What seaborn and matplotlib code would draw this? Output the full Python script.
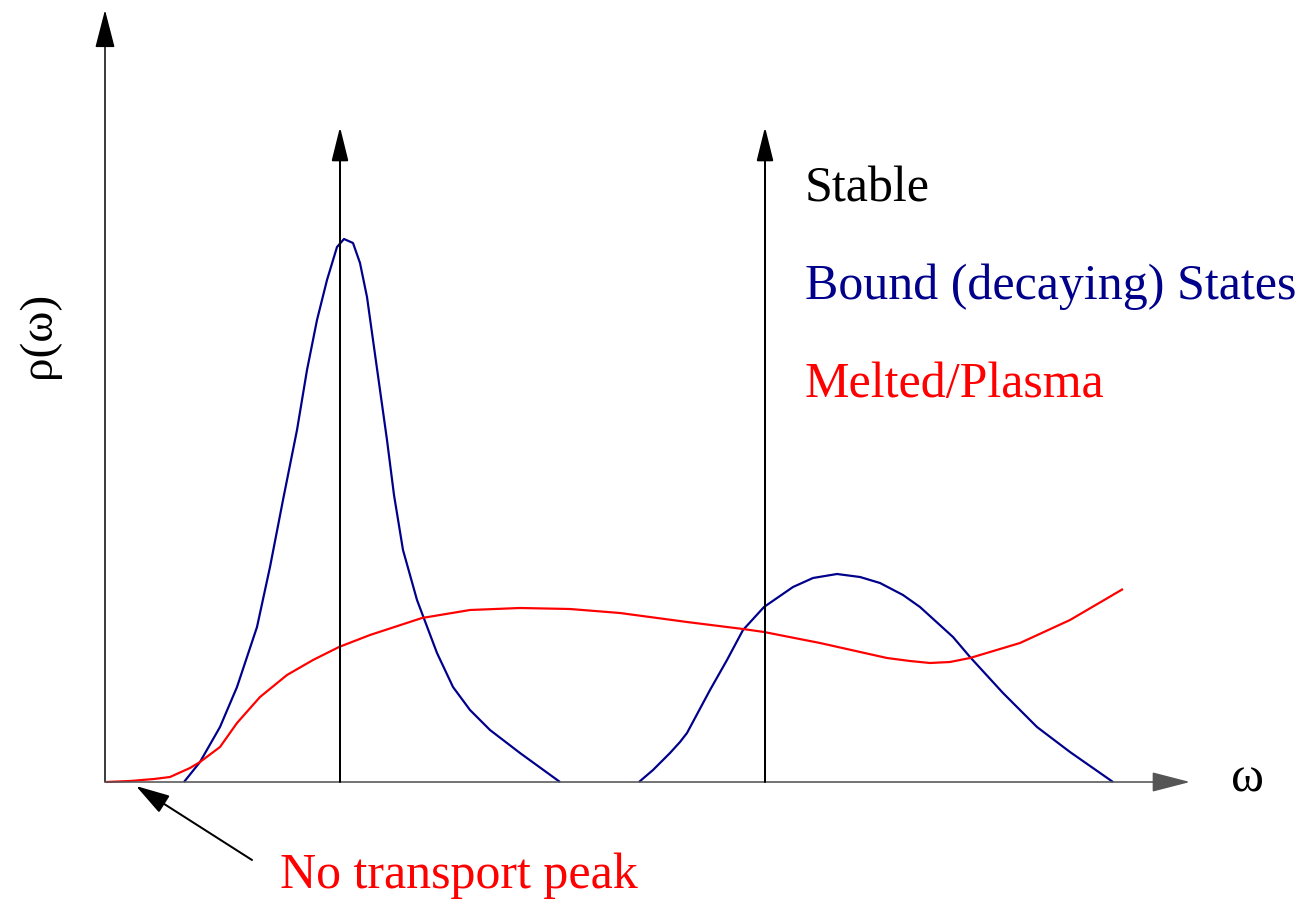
import matplotlib
matplotlib.use("Agg")
import matplotlib.pyplot as plt
import seaborn as sns
import pandas as pd

# ---------------- data (arbitrary units) ----------------
bound1_w = [0.79, 0.95, 1.15, 1.32, 1.52, 1.65, 1.78, 1.92, 2.02, 2.12, 2.22, 2.32,
            2.39, 2.48, 2.55, 2.62, 2.68, 2.75, 2.82, 2.89, 2.98, 3.12, 3.32, 3.48,
            3.65, 3.85, 4.15, 4.55]
bound1_rho = [0.00, 0.20, 0.55, 0.95, 1.55, 2.15, 2.82, 3.52, 4.12, 4.62, 5.02, 5.35,
              5.43, 5.39, 5.19, 4.85, 4.42, 3.92, 3.42, 2.87, 2.32, 1.82, 1.29, 0.95,
              0.72, 0.52, 0.29, 0.00]

bound2_w = [5.34, 5.48, 5.65, 5.75, 5.82, 6.05, 6.22, 6.38, 6.59, 6.88, 7.08, 7.32,
            7.55, 7.75, 7.98, 8.15, 8.48, 8.65, 8.98, 9.32, 9.65, 10.08]
bound2_rho = [0.00, 0.12, 0.29, 0.40, 0.49, 0.92, 1.22, 1.52, 1.75, 1.95, 2.04, 2.08,
              2.05, 1.99, 1.87, 1.75, 1.45, 1.25, 0.89, 0.55, 0.30, 0.00]

plasma_w = [0.01, 0.25, 0.49, 0.65, 0.85, 0.95, 1.15, 1.32, 1.55, 1.82, 2.08, 2.34,
            2.65, 3.17, 3.65, 4.15, 4.65, 5.15, 5.82, 6.38, 6.59, 7.15, 7.82, 8.05,
            8.25, 8.45, 8.65, 9.15, 9.65, 10.18]
plasma_rho = [0.00, 0.01, 0.03, 0.05, 0.14, 0.20, 0.35, 0.59, 0.85, 1.07, 1.22, 1.35,
              1.47, 1.64, 1.72, 1.74, 1.73, 1.69, 1.60, 1.53, 1.50, 1.39, 1.24, 1.21,
              1.19, 1.20, 1.24, 1.39, 1.62, 1.93]

stable_w = [2.35, 6.60]
stable_height = 6.55

axis_x_end = 10.85
axis_y_end = 7.72

legend_labels = ["Stable", "Bound (decaying) States", "Melted/Plasma"]
legend_rho = [5.80, 4.83, 3.85]
legend_w = 7.00
note_text = "No transport peak"
note_tip = (0.31, -0.04)
note_tail = (1.47, -0.78)
note_pos = (1.75, -1.06)

NAVY = "#00008B"
RED = "#FF0000"
BLACK = "#000000"

# ---------------- figure ----------------
sns.set_theme(style="white")
plt.rcParams["font.family"] = ["Liberation Serif", "DejaVu Serif"]

fig = plt.figure(figsize=(13.05, 8.99), dpi=100)
ax = fig.add_axes([0, 0, 1, 1])
ax.set_xlim(-1.05, 12.0)
ax.set_ylim(-1.17, 7.82)
ax.axis("off")

px = 100 / 72.0  # pixels per point
lw = 2.2 / px

df1 = pd.DataFrame({"w": bound1_w, "rho": bound1_rho})
df2 = pd.DataFrame({"w": bound2_w, "rho": bound2_rho})
df3 = pd.DataFrame({"w": plasma_w, "rho": plasma_rho})

for d, c, z in [(df1, NAVY, 2), (df2, NAVY, 2), (df3, RED, 3)]:
    sns.lineplot(data=d, x="w", y="rho", sort=False, estimator=None, color=c,
                 linewidth=lw, ax=ax, zorder=z)
for line in ax.get_lines():
    line.set_solid_joinstyle("round")
    line.set_solid_capstyle("butt")


def arrow(tip, tail, L, W, color=BLACK, width=lw):
    ax.annotate("", xy=tip, xytext=tail,
                arrowprops=dict(arrowstyle=f"-|>,head_length={L},head_width={W}",
                                color=color, lw=width, shrinkA=0, shrinkB=0,
                                mutation_scale=10),
                zorder=4)


# axes with arrowheads
arrow((0, axis_y_end), (0, 0), 2.4, 0.62, BLACK, 1.5 / px)
arrow((axis_x_end, 0), (0, 0), 2.4, 0.62, "#555555", 1.6 / px)

# stable (delta) peaks
for w in stable_w:
    arrow((w, stable_height), (w, 0), 2.1, 0.52, BLACK, 2.0 / px)

# annotation arrow
arrow(note_tip, note_tail, 2.1, 0.62, BLACK, 2.0 / px)

fs = 36
colors = [BLACK, NAVY, RED]
for lab, r, c in zip(legend_labels, legend_rho, colors):
    ax.text(legend_w, r, lab, color=c, fontsize=fs, ha="left", va="baseline")

ax.text(note_pos[0], note_pos[1], note_text, color=RED, fontsize=fs,
        ha="left", va="baseline")

ax.text(-0.66, 4.47, "ρ(ω)", color=BLACK, fontsize=34, rotation=90,
        ha="center", va="center")
ax.text(11.43, -0.10, "ω", color=BLACK, fontsize=36, ha="center", va="baseline")

fig.savefig("out.png", dpi=100)
